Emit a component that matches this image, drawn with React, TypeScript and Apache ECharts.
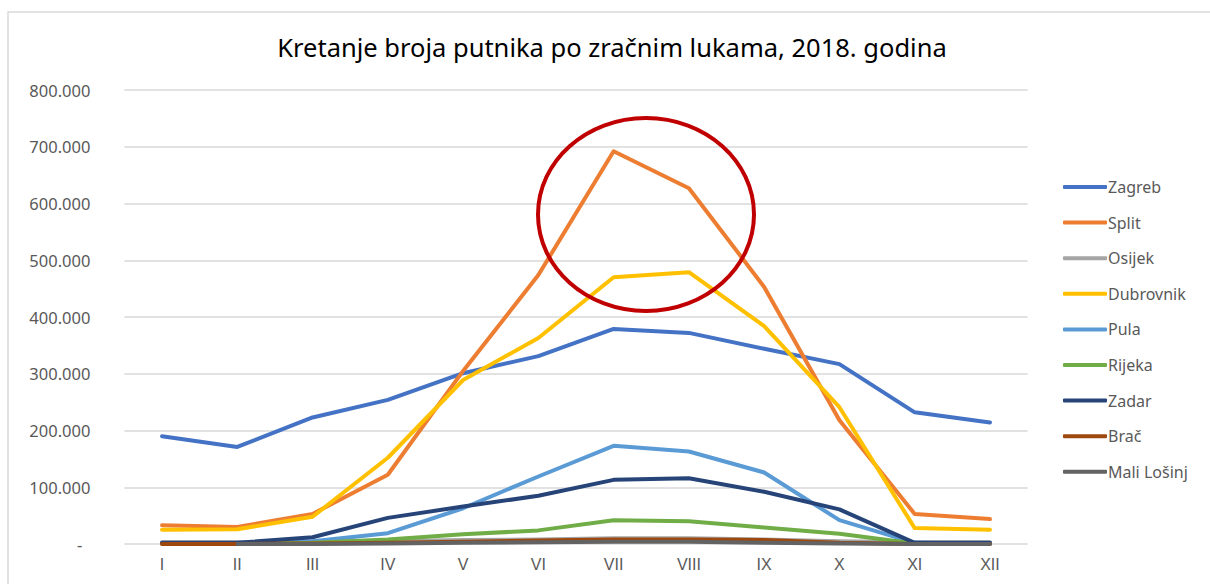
import React, { useEffect, useRef } from "react";
import * as echarts from "echarts";

const months = ["I", "II", "III", "IV", "V", "VI", "VII", "VIII", "IX", "X", "XI", "XII"];
const yTicks = [0, 100000, 200000, 300000, 400000, 500000, 600000, 700000, 800000];

const zagreb = [190000, 171000, 223000, 254000, 301000, 331000, 379000, 372000, 344000, 317000, 232000, 214000];
const split = [33000, 30000, 53000, 122000, 305000, 474000, 692000, 627000, 453000, 218000, 53000, 44000];
const osijek = [3000, 3000, 4000, 5000, 7000, 8000, 10000, 10000, 8000, 5000, 3000, 3000];
const dubrovnik = [25000, 26000, 48000, 152000, 289000, 363000, 470000, 479000, 384000, 241000, 28000, 25000];
const pula = [1000, 1000, 5000, 19000, 63000, 119000, 173000, 163000, 126000, 42000, 2000, 1000];
const rijeka = [1000, 1000, 2000, 8000, 17000, 24000, 42000, 40000, 29000, 18000, 1000, 1000];
const zadar = [2000, 2000, 12000, 46000, 66000, 85000, 113000, 116000, 92000, 61000, 2000, 2000];
const brac = [0, 0, 1000, 2000, 4000, 6000, 8000, 8000, 7000, 2000, 0, 0];
const maliLosinj = [null, 0, 0, 1000, 2000, 3000, 4000, 4000, 2000, 1000, 0, 0];

const seriesNames = ["Zagreb", "Split", "Osijek", "Dubrovnik", "Pula", "Rijeka", "Zadar", "Brač", "Mali Lošinj"];
const seriesData = [zagreb, split, osijek, dubrovnik, pula, rijeka, zadar, brac, maliLosinj];
const colors = ["#4472C4", "#ED7D31", "#A5A5A5", "#FFC000", "#5B9BD5", "#70AD47", "#264478", "#9E480E", "#636363"];

const FONT = "Noto Sans";
const XFONT = "Liberation Sans";

function fmt(v: number): string {
  if (v === 0) return "{z|-}";
  const s = String(v).replace(/\B(?=(\d{3})+(?!\d))/g, ".");
  return "{n|" + s + "}";
}

export default function App() {
  const ref = useRef<HTMLDivElement>(null);
  useEffect(() => {
    if (!ref.current) return;
    const chart = echarts.init(ref.current, undefined, { renderer: "svg" });
    chart.setOption({
      animation: false,
      backgroundColor: "#ffffff",
      textStyle: { fontFamily: FONT },
      title: {
        text: "Kretanje broja putnika po zračnim lukama, 2018. godina",
        left: 607,
        textAlign: "center",
        top: 29,
        textStyle: { fontFamily: FONT, fontSize: 25.5, fontWeight: "normal", color: "#000000" },
      },
      color: colors,
      legend: {
        orient: "vertical",
        left: 1058,
        top: 174,
        itemWidth: 44,
        itemHeight: 4,
        itemGap: 19.6,
        icon: "roundRect",
        textStyle: { fontFamily: FONT, fontSize: 16, color: "#595959", padding: [0, 0, 0, -4] },
        data: seriesNames,
      },
      grid: { left: 124.4, right: 182.4, top: 90, bottom: 40, containLabel: false },
      xAxis: {
        type: "category",
        data: months,
        boundaryGap: true,
        axisLine: { show: false },
        axisTick: { show: false },
        axisLabel: {
          interval: 0,
          fontFamily: XFONT,
          fontSize: 16,
          color: "#595959",
          margin: 12,
        },
      },
      yAxis: {
        type: "value",
        min: 0,
        max: 800000,
        interval: 100000,
        axisLine: { show: false },
        axisTick: { show: false },
        splitLine: { lineStyle: { color: "#D9D9D9", width: 1.5 } },
        axisLabel: {
          fontFamily: FONT,
          fontSize: 16.5,
          color: "#595959",
          margin: 34,
          formatter: (v: number) => fmt(v),
          rich: {
            n: { fontFamily: FONT, fontSize: 16.5, color: "#595959" },
            z: { fontFamily: FONT, fontSize: 16.5, color: "#595959", padding: [0, 8, 0, 0] },
          },
        },
      },
      series: seriesNames.map((name, i) => ({
        name,
        type: "line",
        data: seriesData[i],
        showSymbol: false,
        symbol: "none",
        lineStyle: { width: 4, color: colors[i], cap: "round", join: "round" },
        itemStyle: { color: colors[i] },
      })),
      graphic: [
        {
          type: "rect",
          shape: { x: 8, y: 12, width: 1210, height: 600 },
          style: { fill: "none", stroke: "#D9D9D9", lineWidth: 1.5 },
          silent: true,
          z: -1,
        },
        {
          type: "ellipse",
          shape: { cx: 646, cy: 214.5, rx: 108, ry: 96.5 },
          style: { fill: "none", stroke: "#C00000", lineWidth: 4 },
          silent: true,
          z: 100,
        },
      ],
    });
    return () => chart.dispose();
  }, []);
  return <div ref={ref} style={{ width: 1210, height: 584, position: "absolute", left: 0, top: 0 }} />;
}
